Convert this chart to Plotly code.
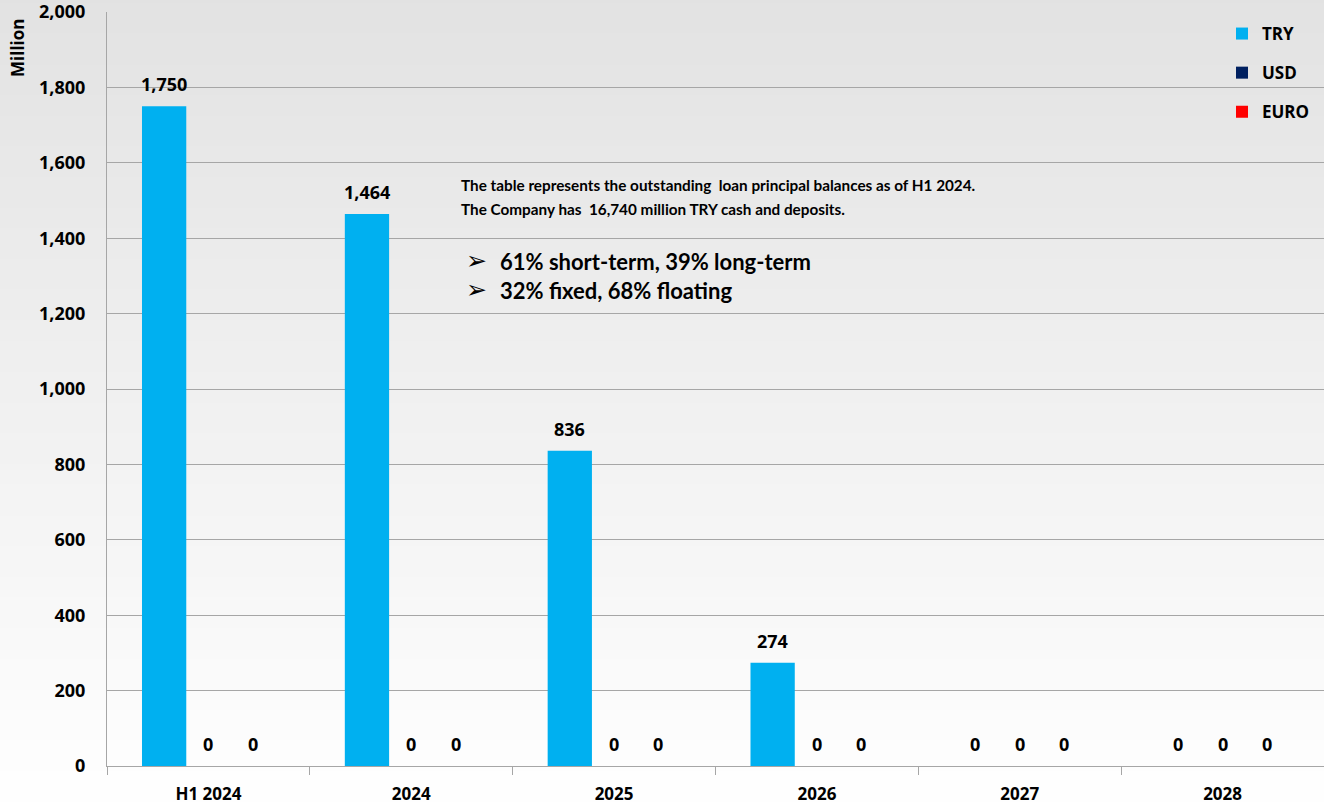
import plotly.graph_objects as go

categories = ["H1 2024", "2024", "2025", "2026", "2027", "2028"]
try_values = [1750, 1464, 836, 274, 0, 0]
usd_values = [0, 0, 0, 0, 0, 0]
euro_values = [0, 0, 0, 0, 0, 0]
series_names = ["TRY", "USD", "EURO"]
series_colors = ["#00B0F0", "#002060", "#FF0000"]
y_ticks = [0, 200, 400, 600, 800, 1000, 1200, 1400, 1600, 1800, 2000]

FONT = "Open Sans"
TXT = "Lato"
OFF = 0  # page body margin removed by post_script
W, H = 1324 - OFF, 805 - OFF
L, R, T, B = 107 - OFF, 0, 12 - OFF, 805 - 766
PW, PH = W - L - R, H - T - B
BARGAP = 0.345

def px_x(x):  # reference pixel -> paper
    return (x - OFF - L) / PW

def px_y(y):
    return 1 - (y - OFF - T) / PH

fig = go.Figure()
all_vals = [try_values, usd_values, euro_values]
for name, vals, col in zip(series_names, all_vals, series_colors):
    fig.add_trace(go.Bar(
        x=categories, y=vals, name=name, legendgroup=name,
        marker=dict(color=col, line=dict(width=0)),
        cliponaxis=False,
    ))

# background gradient
shapes = []
n = 80
y_bot = -B / PH - 0.01
y_top = 1 + T / PH + 0.01
for i in range(n):
    f0 = i / n
    f1 = (i + 1) / n
    t = (f0 + f1) / 2
    c = int(round(255 - (255 - 226) * t))
    shapes.append(dict(type="rect", xref="paper", yref="paper",
                       x0=-0.1, x1=1.05,
                       y0=y_bot + (y_top - y_bot) * f0, y1=y_bot + (y_top - y_bot) * f1 + 0.002,
                       fillcolor=f"rgb({c},{c},{c})", line=dict(width=0), layer="below"))

annotations = []
# value labels above bars
cat_w = PW / len(categories)
bar_w = cat_w * (1 - BARGAP) / len(series_names)
for si, vals in enumerate(all_vals):
    dx = (si - (len(series_names) - 1) / 2) * bar_w
    for ci, v in enumerate(vals):
        annotations.append(dict(
            x=ci, y=v, xref="x", yref="y", text=f"<b>{v:,}</b>", showarrow=False,
            xanchor="center", yanchor="bottom", xshift=dx, yshift=8,
            font=dict(family=FONT, size=18, color="#000000")))

annotations += [
    dict(text="<b>Million</b>", xref="paper", yref="paper", x=px_x(18), y=px_y(48),
         textangle=-90, showarrow=False, font=dict(family=FONT, size=17, color="#000000"),
         xanchor="center", yanchor="middle"),
    dict(text="<b>The table represents the outstanding  loan principal balances as of H1 2024.</b>",
         xref="paper", yref="paper", x=px_x(459), y=px_y(185), showarrow=False,
         xanchor="left", yanchor="middle", font=dict(family=TXT, size=15.3, color="#000000")),
    dict(text="<b>The Company has  16,740 million TRY cash and deposits.</b>",
         xref="paper", yref="paper", x=px_x(459), y=px_y(209), showarrow=False,
         xanchor="left", yanchor="middle", font=dict(family=TXT, size=15.3, color="#000000")),
    dict(text="➢", xref="paper", yref="paper", x=px_x(464), y=px_y(260), showarrow=False,
         xanchor="left", yanchor="middle", font=dict(family="DejaVu Sans", size=25, color="#000000")),
    dict(text="➢", xref="paper", yref="paper", x=px_x(464), y=px_y(289), showarrow=False,
         xanchor="left", yanchor="middle", font=dict(family="DejaVu Sans", size=25, color="#000000")),
    dict(text="<b>61% short-term, 39% long-term</b>", xref="paper", yref="paper",
         x=px_x(498), y=px_y(261), showarrow=False, xanchor="left", yanchor="middle",
         font=dict(family=TXT, size=22, color="#000000")),
    dict(text="<b>32% fixed, 68% floating</b>", xref="paper", yref="paper",
         x=px_x(498), y=px_y(290), showarrow=False, xanchor="left", yanchor="middle",
         font=dict(family=TXT, size=22, color="#000000")),
]

fig.update_layout(
    width=W, height=H,
    margin=dict(l=L, r=R, t=T, b=B, pad=0, autoexpand=False),
    paper_bgcolor="#ffffff", plot_bgcolor="rgba(0,0,0,0)",
    barmode="group", bargap=BARGAP, bargroupgap=0,
    font=dict(family=FONT, color="#000000"),
    showlegend=True,
    legend=dict(x=px_x(1222), y=px_y(16), xanchor="left", yanchor="top",
                bgcolor="rgba(0,0,0,0)", tracegroupgap=14, itemwidth=30,
                font=dict(family=FONT, size=17, color="#000000", weight="bold")),
    shapes=shapes, annotations=annotations,
)
fig.update_xaxes(
    type="category", range=[-0.5, len(categories) - 0.5], automargin=False,
    showgrid=False, showline=True, linecolor="#a6a6a6", linewidth=1,
    ticks="outside", tickson="boundaries", ticklen=8, tickcolor="#a6a6a6",
    tickfont=dict(family=FONT, size=17, color="#000000", weight="bold"),
    ticklabelstandoff=13,
)
fig.update_yaxes(
    range=[0, 2000], tickvals=y_ticks, ticktext=[f"{v:,}" for v in y_ticks],
    automargin=False,
    showgrid=True, gridcolor="#a6a6a6", gridwidth=1,
    showline=True, linecolor="#a6a6a6", linewidth=1, zeroline=False,
    ticks="", ticklabelstandoff=17, ticklabeloverflow="allow",
    tickfont=dict(family=FONT, size=18, color="#000000", weight="bold"),
)

fig.write_html(
    "out.html",
    config={"displayModeBar": False},
    post_script="document.body.style.margin='0';document.body.style.overflow='hidden';",
)
